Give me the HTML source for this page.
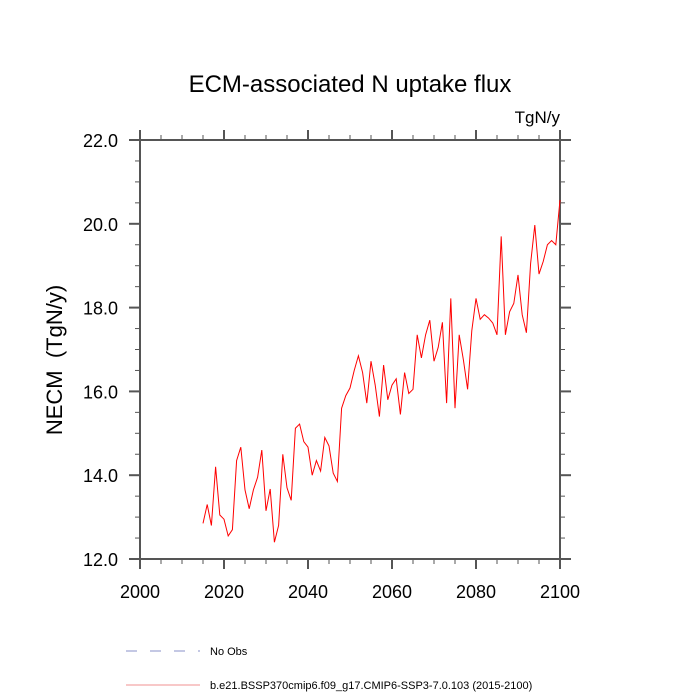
<!DOCTYPE html>
<html><head><meta charset="utf-8"><style>
html,body{margin:0;padding:0;background:#fff;}
svg{display:block;font-family:"Liberation Sans",sans-serif;}
</style></head><body>
<svg id="chart" width="700" height="700" viewBox="0 0 700 700" xmlns="http://www.w3.org/2000/svg">
<text x="350" y="92" font-size="24" text-anchor="middle">ECM-associated N uptake flux</text>
<text x="560" y="123" font-size="17" text-anchor="end">TgN/y</text>
<text transform="translate(62,360) rotate(-90)" font-size="22" text-anchor="middle" style="white-space:pre">NECM  (TgN/y)</text>
<g id="axes"></g>
<g id="series"></g>
<g>
<line x1="126" y1="651" x2="200" y2="651" stroke="#8890c8" stroke-width="1" stroke-dasharray="11,13"/>
<text x="210" y="655" font-size="11">No Obs</text>
<line x1="126" y1="685" x2="200" y2="685" stroke="#f09090" stroke-width="1"/>
<text x="210" y="689" font-size="11">b.e21.BSSP370cmip6.f09_g17.CMIP6-SSP3-7.0.103 (2015-2100)</text>
</g>
</svg>
<script>
const startYear = 2015;
const values = [12.85,13.3,12.8,14.2,13.05,12.95,12.55,12.7,14.35,14.67,13.65,13.2,13.65,13.95,14.6,13.15,13.67,12.4,12.8,14.5,13.7,13.4,15.12,15.22,14.8,14.67,14.0,14.35,14.1,14.9,14.7,14.05,13.85,15.6,15.9,16.08,16.5,16.85,16.45,15.72,16.72,16.15,15.4,16.63,15.8,16.15,16.3,15.45,16.45,15.95,16.05,17.35,16.8,17.35,17.7,16.72,17.05,17.65,15.72,18.22,15.6,17.35,16.75,16.05,17.45,18.22,17.72,17.83,17.75,17.63,17.35,19.7,17.35,17.9,18.1,18.78,17.83,17.4,19.05,19.97,18.8,19.1,19.5,19.6,19.5,20.57];
const xTicks = [2000,2020,2040,2060,2080,2100];
const yTicks = [12,14,16,18,20,22];
const NS='http://www.w3.org/2000/svg';
const L=140,R=560,T=140,B=559;
const X0=2000,X1=2100,Y0=12,Y1=22;
const xs=v=>L+(v-X0)/(X1-X0)*(R-L);
const ys=v=>B-(v-Y0)/(Y1-Y0)*(B-T);
const axes=document.getElementById('axes');
function mk(tag,attrs,parent){const e=document.createElementNS(NS,tag);for(const k in attrs)e.setAttribute(k,attrs[k]);parent.appendChild(e);return e;}
const frame=mk('rect',{x:L,y:T,width:R-L,height:B-T,fill:'none',stroke:'#555','stroke-width':2},axes);


for(let v=X0;v<=X1;v+=5){const maj=(v%20===0);const len=maj?10:5;const x=xs(v);
 const a=mk('line',{x1:x,y1:B,x2:x,y2:B+len,stroke:'#555','stroke-width':maj?2:1},axes);
 
 
 const b=mk('line',{x1:x,y1:T,x2:x,y2:T-len,stroke:'#555','stroke-width':maj?2:1},axes);
 
 }
for(let v=Y0;v<=Y1+1e-9;v+=0.5){const maj=Math.abs(v%2)<1e-9;const len=maj?11:5;const y=ys(v);
 const a=mk('line',{x1:L,y1:y,x2:L-len,y2:y,stroke:'#555','stroke-width':maj?2:1},axes);
 
 
 const b=mk('line',{x1:R,y1:y,x2:R+len,y2:y,stroke:'#555','stroke-width':maj?2:1},axes);
 
 }
xTicks.forEach(v=>{const t=mk('text',{x:xs(v),y:B+39,'font-size':18,'text-anchor':'middle'},axes);t.textContent=v;
 
 });
yTicks.forEach(v=>{const t=mk('text',{x:L-22,y:ys(v)+7,'font-size':18,'text-anchor':'end'},axes);t.textContent=v.toFixed(1);
 
 });
const pts=values.map((v,i)=>xs(startYear+i).toFixed(2)+','+ys(v).toFixed(2)).join(' ');
const line=mk('polyline',{points:pts,fill:'none',stroke:'#ff0000','stroke-width':1},document.getElementById('series'));


</script>
</body></html>
